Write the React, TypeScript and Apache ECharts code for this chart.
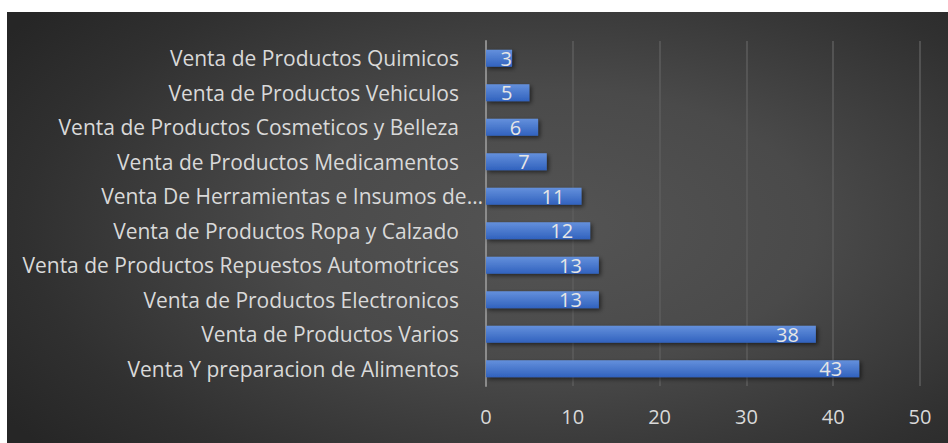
import React, { useEffect, useRef } from "react";
import * as echarts from "echarts";

const categories = [
  "Venta de Productos Quimicos",
  "Venta de Productos Vehiculos",
  "Venta de Productos Cosmeticos y Belleza",
  "Venta de Productos Medicamentos",
  "Venta De Herramientas e Insumos de…",
  "Venta de Productos Ropa y Calzado",
  "Venta de Productos Repuestos Automotrices",
  "Venta de Productos Electronicos",
  "Venta de Productos Varios",
  "Venta Y preparacion de Alimentos",
];
const values = [3, 5, 6, 7, 11, 12, 13, 13, 38, 43];
const tickValues = [0, 10, 20, 30, 40, 50];

export default function App() {
  const ref = useRef<HTMLDivElement>(null);
  useEffect(() => {
    if (!ref.current) return;
    const chart = echarts.init(ref.current, undefined, { renderer: "svg" });
    const font = "'Open Sans', 'Noto Sans', sans-serif";
    chart.setOption({
      animation: false,
      backgroundColor: "transparent",
      grid: { left: 479, right: 28, top: 29, bottom: 57, containLabel: false },
      xAxis: {
        type: "value",
        min: tickValues[0],
        max: tickValues[tickValues.length - 1],
        interval: 10,
        axisLine: { show: false },
        axisTick: { show: false },
        splitLine: { lineStyle: { color: "#5c5c5c", width: 1.5 } },
        axisLabel: { color: "#d9d9d9", fontSize: 20, fontFamily: font, margin: 20 },
      },
      yAxis: {
        type: "category",
        inverse: true,
        data: categories,
        axisLine: { show: true, lineStyle: { color: "#8c8c8c", width: 2 } },
        axisTick: { show: false },
        axisLabel: {
          color: "#d9d9d9",
          fontSize: 21,
          fontFamily: font,
          margin: 3,
          formatter: (v: string) => (v.endsWith("…") ? `{e|${v}}` : `{n|${v}}`),
          rich: {
            n: { color: "#d9d9d9", fontSize: 21, fontFamily: font, padding: [0, 24, 0, 0] },
            e: { color: "#d9d9d9", fontSize: 21, fontFamily: font, padding: [0, 0, 0, 0] },
          },
        },
      },
      series: [
        {
          type: "bar",
          barWidth: 17,
          data: values.map((v) =>
            v < 4 ? { value: v, label: { distance: 0 } } : v
          ),
          itemStyle: {
            color: {
              type: "linear",
              x: 0,
              y: 0,
              x2: 0,
              y2: 1,
              colorStops: [
                { offset: 0, color: "#6490dc" },
                { offset: 1, color: "#3162be" },
              ],
            },
            shadowColor: "rgba(0,0,0,0.55)",
            shadowBlur: 4,
            shadowOffsetX: 2,
            shadowOffsetY: 2,
          },
          label: {
            show: true,
            position: "insideRight",
            distance: 17,
            color: "#e6e6e6",
            fontSize: 20,
            fontFamily: font,
          },
        },
      ],
    });
    return () => chart.dispose();
  }, []);
  return (
    <div
      style={{
        position: "absolute",
        left: 7,
        top: 12,
        width: 941,
        height: 431,
        background:
          "radial-gradient(ellipse 70% 80% at 58% 50%, #545454 0%, #4a4a4a 40%, #303030 80%, #262626 100%)",
      }}
    >
      <div ref={ref} style={{ width: 941, height: 431 }} />
    </div>
  );
}
